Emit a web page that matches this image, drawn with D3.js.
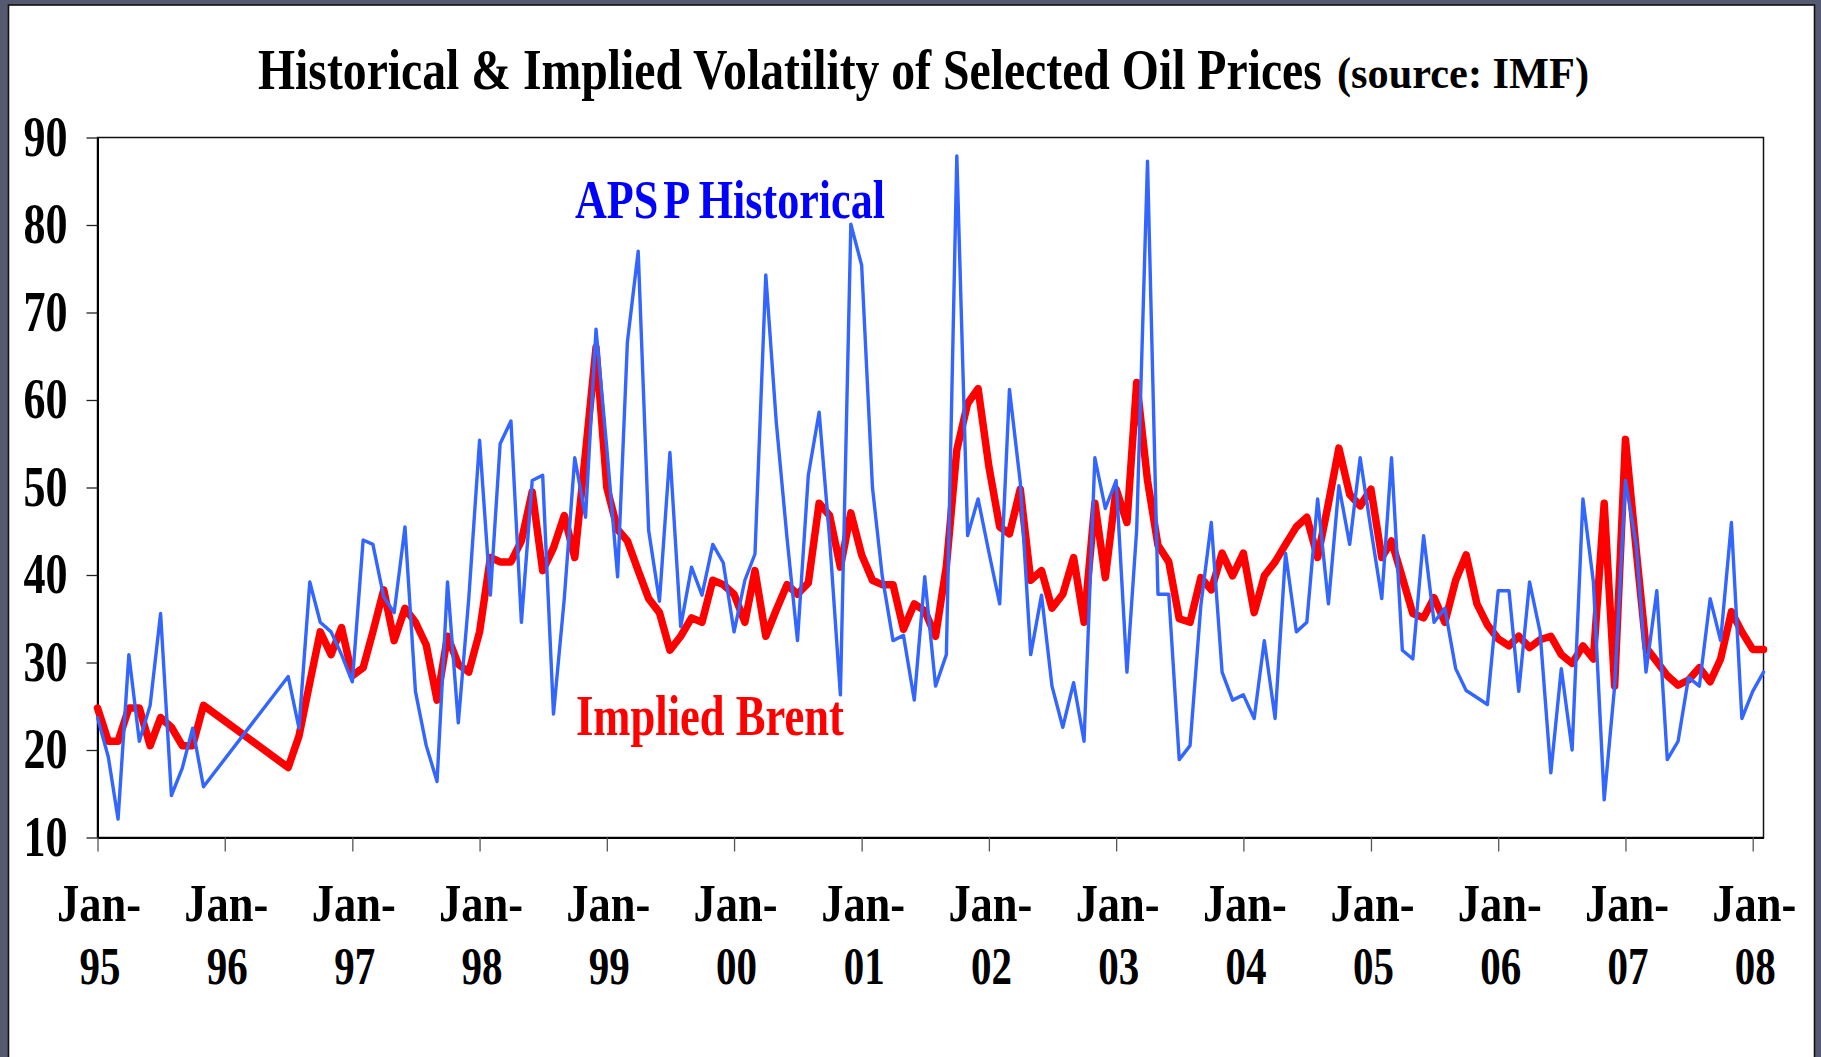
<!DOCTYPE html>
<html>
<head>
<meta charset="utf-8">
<script src="https://cdn.jsdelivr.net/npm/d3@7"></script>
<style>
  html, body { margin: 0; padding: 0; background: #ffffff; }
  svg { display: block; }
  text { font-family: "Liberation Serif", "Times New Roman", serif; font-weight: bold; }
</style>
</head>
<body>
<svg id="chart" width="1821" height="1057"></svg>
<script>
// ---------------- DATA ----------------
const months = [
  "1995-01","1995-02","1995-03","1995-04","1995-05","1995-06","1995-07","1995-08","1995-09","1995-10","1995-11",
  "1996-07","1996-08","1996-09","1996-10","1996-11","1996-12",
  "1997-01","1997-02","1997-03","1997-04","1997-05","1997-06","1997-07","1997-08","1997-09","1997-10","1997-11","1997-12",
  "1998-01","1998-02","1998-03","1998-04","1998-05","1998-06","1998-07","1998-08","1998-09","1998-10","1998-11","1998-12",
  "1999-01","1999-02","1999-03","1999-04","1999-05","1999-06","1999-07","1999-08","1999-09","1999-10","1999-11","1999-12",
  "2000-01","2000-02","2000-03","2000-04","2000-05","2000-06","2000-07","2000-08","2000-09","2000-10","2000-11","2000-12",
  "2001-01","2001-02","2001-03","2001-04","2001-05","2001-06","2001-07","2001-08","2001-09","2001-10","2001-11","2001-12",
  "2002-01","2002-02","2002-03","2002-04","2002-05","2002-06","2002-07","2002-08","2002-09","2002-10","2002-11","2002-12",
  "2003-01","2003-02","2003-03","2003-04","2003-05","2003-06","2003-07","2003-08","2003-09","2003-10","2003-11","2003-12",
  "2004-01","2004-02","2004-03","2004-04","2004-05","2004-06","2004-07","2004-08","2004-09","2004-10","2004-11","2004-12",
  "2005-01","2005-02","2005-03","2005-04","2005-05","2005-06","2005-07","2005-08","2005-09","2005-10","2005-11","2005-12",
  "2006-01","2006-02","2006-03","2006-04","2006-05","2006-06","2006-07","2006-08","2006-09","2006-10","2006-11","2006-12",
  "2007-01","2007-02","2007-03","2007-04","2007-05","2007-06","2007-07","2007-08","2007-09","2007-10","2007-11","2007-12",
  "2008-01","2008-02"
];

// Implied Brent volatility (red)
const impliedBrent = [
  24.8, 21.0, 21.0, 24.8, 24.8, 20.5, 23.7, 22.6, 20.5, 20.5, 25.1,
  18.0, 21.6, 27.7, 33.5, 30.9, 34.0,
  28.5, 29.4, 33.5, 38.3, 32.5, 36.2, 34.6, 32.0, 25.7, 33.0, 29.8, 28.9,
  33.5, 42.0, 41.5, 41.5, 43.9, 49.5, 40.5, 43.1, 46.8, 42.0, 54.0, 66.0,
  50.0, 45.2, 43.9, 40.5, 37.3, 35.7, 31.4, 33.0, 35.1, 34.6, 39.4, 38.9,
  37.8, 34.6, 40.5, 33.0, 36.0, 38.9, 37.8, 39.1, 48.2, 46.8, 40.9, 47.1,
  42.3, 39.4, 38.9, 38.9, 33.8, 36.7, 35.9, 33.0, 41.0, 54.3, 59.6, 61.3,
  52.4, 45.5, 44.7, 49.8, 39.4, 40.5, 36.2, 37.8, 42.0, 34.6, 48.2, 39.7,
  49.8, 46.0, 62.0, 50.8, 43.4, 41.5, 35.0, 34.6, 39.7, 38.3, 42.5, 39.9,
  42.5, 35.7, 39.9, 41.5, 43.5, 45.5, 46.6, 42.0, 48.2, 54.5, 49.2, 47.9,
  49.8, 42.0, 43.9, 39.7, 35.6, 35.1, 37.4, 34.6, 39.4, 42.3, 36.7, 34.3,
  32.7, 31.9, 33.0, 31.7, 32.6, 33.0, 30.9, 29.9, 31.9, 30.4, 48.2, 27.3,
  55.5, 42.8, 31.7, 30.1, 28.5, 27.4, 28.0, 29.4, 27.8, 30.4, 35.8, 33.5,
  31.5, 31.5
];

// APSP historical volatility (blue)
const apspHistorical = [
  23.7, 19.2, 12.1, 30.9, 21.0, 25.1, 35.6, 14.8, 17.9, 22.5, 15.8,
  28.4, 22.5, 39.2, 34.6, 33.5, 30.9,
  27.8, 44.0, 43.5, 37.5, 35.7, 45.5, 26.7, 20.5, 16.4, 39.2, 23.1, 37.3,
  55.4, 37.7, 55.0, 57.6, 34.6, 50.8, 51.4, 24.1, 37.3, 53.4, 46.6, 68.1,
  54.5, 39.8, 66.6, 77.0, 45.1, 37.0, 54.0, 34.1, 40.9, 37.7, 43.5, 41.4,
  33.5, 39.4, 42.4, 74.3, 57.5, 44.2, 32.5, 51.4, 58.6, 44.2, 26.3, 80.1,
  75.4, 50.0, 39.9, 32.5, 33.1, 25.7, 39.8, 27.3, 30.9, 87.9, 44.5, 48.7,
  42.6, 36.7, 61.2, 50.6, 30.9, 37.7, 27.3, 22.6, 27.7, 21.0, 53.4, 47.6,
  50.8, 28.9, 45.2, 87.3, 37.8, 37.8, 18.9, 20.5, 36.5, 46.0, 28.9, 25.7,
  26.3, 23.6, 32.5, 23.6, 42.5, 33.5, 34.6, 48.7, 36.7, 50.2, 43.5, 53.4,
  45.2, 37.3, 53.4, 31.4, 30.4, 44.5, 34.6, 36.2, 29.3, 26.8, 26.0, 25.2,
  38.2, 38.2, 26.7, 39.2, 33.5, 17.4, 29.3, 20.0, 48.7, 39.2, 14.3, 27.3,
  50.8, 43.4, 28.9, 38.2, 18.9, 21.0, 28.3, 27.3, 37.3, 32.5, 46.0, 23.6,
  26.7, 28.9
];

const yTicks = [10, 20, 30, 40, 50, 60, 70, 80, 90];
const xTickDates = ["1995-01","1996-01","1997-01","1998-01","1999-01","2000-01","2001-01",
                    "2002-01","2003-01","2004-01","2005-01","2006-01","2007-01","2008-01"];
const xTickLabels = ["95","96","97","98","99","00","01","02","03","04","05","06","07","08"];
const monthPrefix = "Jan-";

const titleMain = "Historical & Implied Volatility of Selected Oil Prices";
const titleSource = "(source: IMF)";

// ---------------- DRAW ----------------
const parse = d3.timeParse("%Y-%m");
const svg = d3.select("#chart");
const W = 1821, H = 1057;

// slide frame
svg.append("rect").attr("x", 0).attr("y", 0).attr("width", W).attr("height", H).attr("fill", "#565a70");
svg.append("rect").attr("x", 8.5).attr("y", 5).attr("width", 1806).attr("height", H)
   .attr("fill", "#ffffff").attr("stroke", "#111111").attr("stroke-width", 1.6);

const plot = { left: 97.5, right: 1763.5, top: 137.5, bottom: 837.5 };

const x = d3.scaleTime()
  .domain([parse("1995-01"), parse("2008-02")])
  .range([plot.left, plot.right]);
const y = d3.scaleLinear().domain([10, 90]).range([plot.bottom, plot.top]);

// plot frame (top / right)
svg.append("rect")
  .attr("x", plot.left).attr("y", plot.top)
  .attr("width", plot.right - plot.left).attr("height", plot.bottom - plot.top)
  .attr("fill", "none").attr("stroke", "#111").attr("stroke-width", 1.5);

// Y axis
const yAxis = svg.append("g")
  .attr("transform", `translate(${plot.left},0)`)
  .call(d3.axisLeft(y).tickValues(yTicks).tickSize(11).tickSizeOuter(0).tickPadding(19));
yAxis.select(".domain").attr("stroke", "#000").attr("stroke-width", 2);
yAxis.selectAll(".tick line").attr("stroke", "#222").attr("stroke-width", 1.3);
yAxis.selectAll(".tick text")
  .attr("fill", "#000")
  .style("font-size", "56px")
  .attr("textLength", 44).attr("lengthAdjust", "spacingAndGlyphs");

// X axis
const xTicks = xTickDates.map(parse);
const xAxis = svg.append("g")
  .attr("transform", `translate(0,${plot.bottom})`)
  .call(d3.axisBottom(x).tickValues(xTicks).tickSize(14).tickSizeOuter(0).tickFormat(""));
xAxis.select(".domain").attr("stroke", "#000").attr("stroke-width", 2.2);
xAxis.selectAll(".tick line").attr("stroke", "#555").attr("stroke-width", 1.3);
xAxis.selectAll(".tick").each(function(d, i) {
  const g = d3.select(this);
  g.append("text")
    .attr("x", 1).attr("y", 83)
    .attr("text-anchor", "middle").attr("fill", "#000")
    .style("font-size", "52px")
    .attr("textLength", 84).attr("lengthAdjust", "spacingAndGlyphs")
    .text(monthPrefix);
  g.append("text")
    .attr("x", 2).attr("y", 146)
    .attr("text-anchor", "middle").attr("fill", "#000")
    .style("font-size", "52px")
    .attr("textLength", 41).attr("lengthAdjust", "spacingAndGlyphs")
    .text(xTickLabels[i]);
});

// Lines
const implied = months.map((m, i) => ({ date: parse(m), v: impliedBrent[i] }));
const hist = months.map((m, i) => ({ date: parse(m), v: apspHistorical[i] }));
const line = d3.line().x(d => x(d.date)).y(d => y(d.v));

svg.append("path").datum(implied)
  .attr("d", line).attr("fill", "none")
  .attr("stroke", "#ff0000").attr("stroke-width", 7.5)
  .attr("stroke-linejoin", "round").attr("stroke-linecap", "round");

svg.append("path").datum(hist)
  .attr("d", line).attr("fill", "none")
  .attr("stroke", "#3366ff").attr("stroke-width", 3.4)
  .attr("stroke-linejoin", "round").attr("stroke-linecap", "round");

// helper: condense a text element horizontally to a target width
function condense(sel, x0, y0, targetW) {
  sel.attr("x", 0).attr("y", 0);
  const nat = sel.node().getBBox().width;
  sel.attr("transform", `translate(${x0},${y0}) scale(${targetW / nat},1)`);
}

// Series labels
const histLabel = svg.append("text")
  .attr("fill", "#0000ff").style("font-size", "55px");
histLabel.append("tspan").text("APS");
histLabel.append("tspan").attr("dx", 6).text("P Historical");
condense(histLabel, 575, 218, 310);

const impLabel = svg.append("text")
  .attr("fill", "#ff0000").style("font-size", "57px")
  .text("Implied Brent");
condense(impLabel, 576, 735, 268);

// Title
const title = svg.append("text")
  .attr("fill", "#000").style("font-size", "58px")
  .text(titleMain);
condense(title, 258, 89, 1064);

const source = svg.append("text")
  .attr("fill", "#000").style("font-size", "45px")
  .text(titleSource);
condense(source, 1337, 88, 252);
</script>
</body>
</html>
